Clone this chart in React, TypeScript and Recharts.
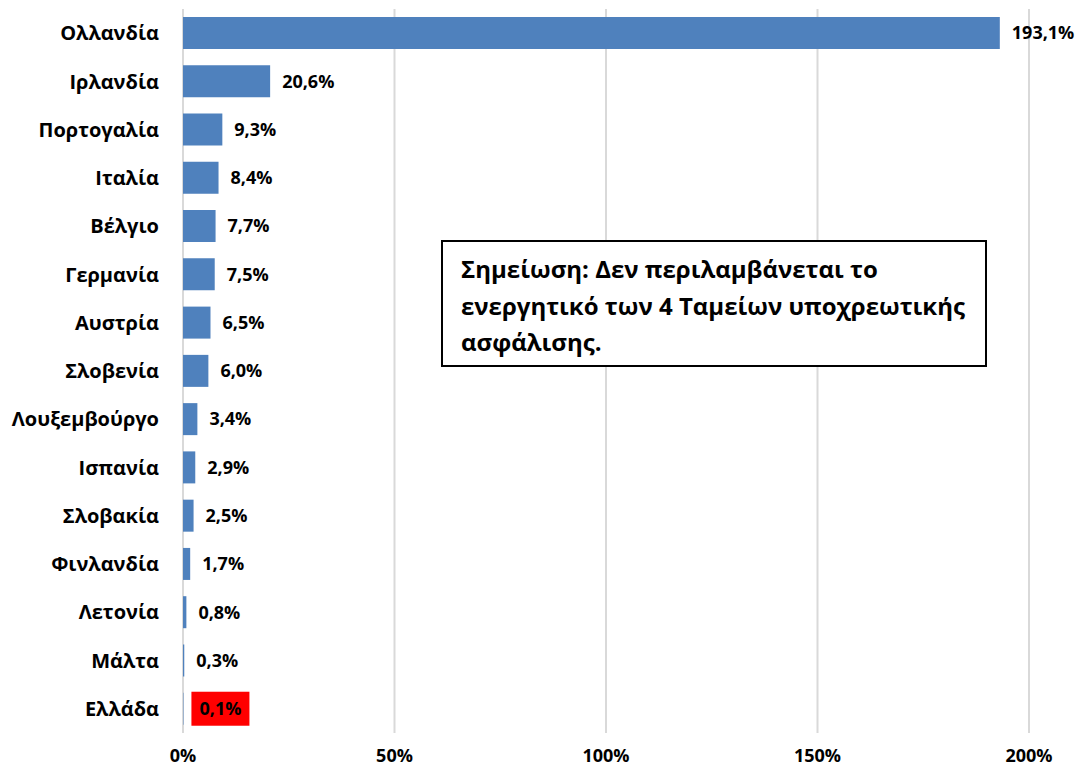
import React from 'react';
import { BarChart, Bar, XAxis, YAxis, CartesianGrid, LabelList } from 'recharts';

const countries = [
  'Ολλανδία', 'Ιρλανδία', 'Πορτογαλία', 'Ιταλία', 'Βέλγιο', 'Γερμανία', 'Αυστρία', 'Σλοβενία',
  'Λουξεμβούργο', 'Ισπανία', 'Σλοβακία', 'Φινλανδία', 'Λετονία', 'Μάλτα', 'Ελλάδα',
];
const shares = [193.1, 20.6, 9.3, 8.4, 7.7, 7.5, 6.5, 6.0, 3.4, 2.9, 2.5, 1.7, 0.8, 0.3, 0.1];
const xTicks = [0, 50, 100, 150, 200];
const highlighted = 'Ελλάδα';
const noteLines = [
  'Σημείωση: Δεν περιλαμβάνεται το',
  'ενεργητικό των 4 Ταμείων υποχρεωτικής',
  'ασφάλισης.',
];

const data = countries.map((name, i) => ({ name, value: shares[i] }));

const FONT = '"Open Sans", "Noto Sans", sans-serif';
const fmt = (v: number) => v.toFixed(1).replace('.', ',') + '%';

const ValueLabel = (props: any) => {
  const { x, y, width, height, value, index } = props;
  const cy = y + height / 2;
  const isHi = data[index]?.name === highlighted;
  if (isHi) {
    const rx = x + width + 8;
    return (
      <g>
        <rect x={rx} y={cy - 17} width={58} height={34} fill="#ff0000" />
        <text x={rx + 29} y={cy} dy="0.35em" textAnchor="middle" fontFamily={FONT} fontWeight={700} fontSize={18} fill="#000">
          {fmt(value)}
        </text>
      </g>
    );
  }
  return (
    <text x={x + width + 12} y={cy} dy="0.35em" fontFamily={FONT} fontWeight={700} fontSize={18} fill="#000">
      {fmt(value)}
    </text>
  );
};

const App = () => (
  <div style={{ position: 'absolute', left: 0, top: 0, width: 1075, height: 768, background: '#fff' }}>
    <BarChart
      width={1075}
      height={768}
      data={data}
      layout="vertical"
      margin={{ top: 9, right: 46, bottom: 0, left: 0 }}
    >
      <CartesianGrid horizontal={false} stroke="#d9d9d9" strokeWidth={2} />
      <XAxis
        type="number"
        domain={[0, 200]}
        ticks={xTicks}
        tickFormatter={(v) => `${v}%`}
        axisLine={false}
        tickLine={false}
        tickSize={0}
        tickMargin={16}
        height={35}
        tick={{ fill: '#000', fontFamily: FONT, fontWeight: 700, fontSize: 18 }}
      />
      <YAxis
        type="category"
        dataKey="name"
        width={183}
        axisLine={false}
        tickLine={false}
        tickSize={0}
        tickMargin={24}
        interval={0}
        tick={{ fill: '#000', fontFamily: FONT, fontWeight: 700, fontSize: 20 }}
      />
      <Bar dataKey="value" fill="#4f81bd" barSize={32} isAnimationActive={false}>
        <LabelList dataKey="value" content={ValueLabel} />
      </Bar>
    </BarChart>
    <div
      style={{
        position: 'absolute',
        left: 441,
        top: 240,
        width: 546,
        height: 127,
        boxSizing: 'border-box',
        border: '2px solid #000',
        background: '#fff',
        padding: '9px 0 0 18px',
        fontFamily: FONT,
        fontWeight: 700,
        fontSize: 24,
        lineHeight: '36.5px',
        color: '#000',
        whiteSpace: 'nowrap',
      }}
    >
      {noteLines.map((l) => (
        <div key={l}>{l}</div>
      ))}
    </div>
  </div>
);

export default App;
